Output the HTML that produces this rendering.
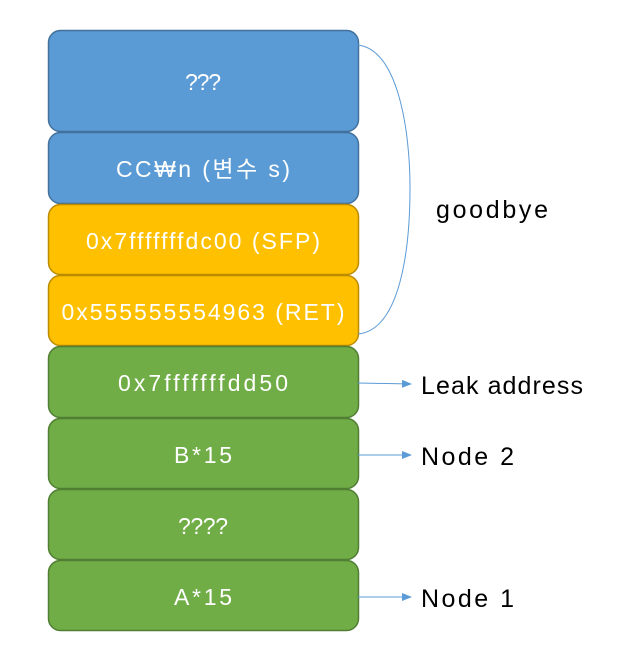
<!DOCTYPE html>
<html><head><style>body{margin:0;background:#fff}</style></head><body>
<svg width="626" height="661" xmlns="http://www.w3.org/2000/svg" font-family="'Liberation Sans','Noto Sans CJK KR',sans-serif" font-size="23">
<defs><marker id="a" markerWidth="10" markerHeight="8" refX="9" refY="4" orient="auto" markerUnits="userSpaceOnUse"><path d="M0,0 L10,4 L0,8 z" fill="#5B9BD5"/></marker></defs>
<g stroke-width="1.5">
<rect x="48.5" y="30.5" width="310" height="101" rx="12" fill="#5B9BD5" stroke="#41719C"/>
<rect x="48.5" y="132.5" width="310" height="71" rx="12" fill="#5B9BD5" stroke="#41719C"/>
<rect x="48.5" y="204.5" width="310" height="70" rx="12" fill="#FFC000" stroke="#BC8C00"/>
<rect x="48.5" y="275.5" width="310" height="70" rx="12" fill="#FFC000" stroke="#BC8C00"/>
<rect x="48.5" y="346.5" width="310" height="71" rx="12" fill="#70AD47" stroke="#507E32"/>
<rect x="48.5" y="418.5" width="310" height="70" rx="12" fill="#70AD47" stroke="#507E32"/>
<rect x="48.5" y="489.5" width="310" height="70" rx="12" fill="#70AD47" stroke="#507E32"/>
<rect x="48.5" y="560.5" width="310" height="70" rx="12" fill="#70AD47" stroke="#507E32"/>
</g>
<g fill="#fff" text-anchor="middle" lengthAdjust="spacing">
<text x="203" y="90" textLength="36">???</text>
<text x="203" y="177" textLength="174">CC₩n (변수 s)</text>
<text x="203" y="249" textLength="234">0x7fffffffdc00 (SFP)</text>
<text x="203" y="320" textLength="283">0x555555554963 (RET)</text>
<text x="203" y="391" textLength="170">0x7fffffffdd50</text>
<text x="203" y="463" textLength="58">B*15</text>
<text x="203" y="534" textLength="50">????</text>
<text x="203" y="605" textLength="58">A*15</text>
</g>
<path d="M358,45 C398,50 410,130 410,188 C410,250 400,330 358,334" fill="none" stroke="#5B9BD5" stroke-width="1"/>
<g stroke="#5B9BD5" stroke-width="1">
<line x1="358" y1="383" x2="411" y2="384" marker-end="url(#a)"/>
<line x1="358" y1="455" x2="411" y2="455" marker-end="url(#a)"/>
<line x1="358" y1="597" x2="411" y2="597" marker-end="url(#a)"/>
</g>
<g fill="#000" font-size="25">
<text x="436" y="218" textLength="112">goodbye</text>
<text x="421" y="394" textLength="162">Leak address</text>
<text x="421" y="465" textLength="93">Node 2</text>
<text x="421" y="607" textLength="93">Node 1</text>
</g>
</svg>
</body></html>
